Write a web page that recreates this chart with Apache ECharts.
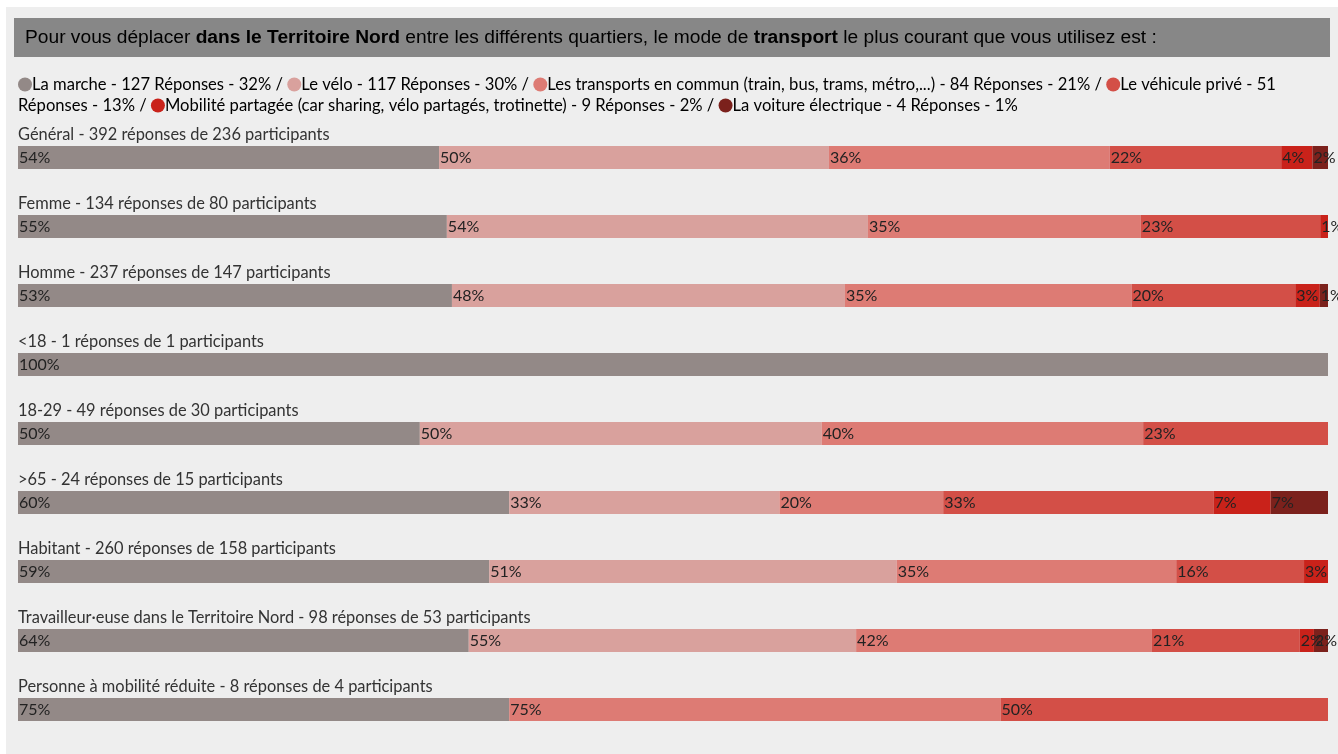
<!DOCTYPE html>
<html>
<head>
<meta charset="utf-8">
<script src="https://cdn.jsdelivr.net/npm/echarts@6/dist/echarts.min.js"></script>
<style>
html,body{margin:0;padding:0;background:#fff;}
#chart{width:1338px;height:754px;}
</style>
</head>
<body>
<div id="chart"></div>
<script>
// ---- data ----
const categories = [
  'Général - 392 réponses de 236 participants',
  'Femme - 134 réponses de 80 participants',
  'Homme - 237 réponses de 147 participants',
  '<18 - 1 réponses de 1 participants',
  '18-29 - 49 réponses de 30 participants',
  '>65 - 24 réponses de 15 participants',
  'Habitant - 260 réponses de 158 participants',
  'Travailleur·euse dans le Territoire Nord - 98 réponses de 53 participants',
  'Personne à mobilité réduite - 8 réponses de 4 participants'
];
const modeNames = [
  'La marche',
  'Le vélo',
  'Les transports en commun (train, bus, trams, métro,...)',
  'Le véhicule privé',
  'Mobilité partagée (car sharing, vélo partagés, trotinette)',
  'La voiture électrique'
];
const modeResponses = [127, 117, 84, 51, 9, 4];
const modeShares = [32, 30, 21, 13, 2, 1];
const marche     = [54, 55, 53, 100, 50, 60, 59, 64, 75];
const velo       = [50, 54, 48, 0, 50, 33, 51, 55, 0];
const transports = [36, 35, 35, 0, 40, 20, 35, 42, 75];
const vehicule   = [22, 23, 20, 0, 23, 33, 16, 21, 50];
const partagee   = [4, 1, 3, 0, 0, 7, 3, 2, 0];
const electrique = [2, 0, 1, 0, 0, 7, 0, 2, 0];

const seriesValues = [marche, velo, transports, vehicule, partagee, electrique];
const colors = ['#938987', '#d9a19d', '#dd7b74', '#d34f47', '#c9221a', '#7b211c'];

const rowTotals = categories.map((_, r) => seriesValues.reduce((s, arr) => s + arr[r], 0));

// ---- legend text ----
const rich = { t: { fontFamily: 'Lato', fontSize: 16.6, color: '#333', lineHeight: 21 } };
const parts = modeNames.map((n, i) => {
  rich['c' + i] = { width: 14, height: 14, borderRadius: 7, backgroundColor: colors[i] };
  let txt = n + ' - ' + modeResponses[i] + ' Réponses - ' + modeShares[i] + '%';
  if (i === 3) txt = txt.replace(modeResponses[i] + ' Réponses', modeResponses[i] + '\nRéponses');
  return '{c' + i + '|}{t|' + txt + '}';
});
const legendText = parts.join('{t| / }');

const chart = echarts.init(document.getElementById('chart'), null, { renderer: 'canvas' });

const option = {
  backgroundColor: '#ffffff',
  animation: false,
  graphic: [
    { type: 'rect', z: -10, shape: { x: 6, y: 7, width: 1340, height: 760 }, style: { fill: '#eeeeee' } },
    { type: 'rect', z: -5, shape: { x: 14, y: 18, width: 1316, height: 39 }, style: { fill: '#878787' } },
    {
      type: 'text', x: 25, y: 38,
      style: {
        text: '{n|Pour vous déplacer }{b|dans le Territoire Nord}{n| entre les différents quartiers, le mode de }{b|transport}{n| le plus courant que vous utilisez est :}',
        verticalAlign: 'middle',
        rich: {
          n: { fontFamily: 'Liberation Sans', fontSize: 19.2, color: '#fff', fontWeight: 'normal' },
          b: { fontFamily: 'Liberation Sans', fontSize: 19.2, color: '#fff', fontWeight: 'bold' }
        }
      }
    },
    {
      type: 'text', x: 18, y: 74,
      style: { text: legendText, rich: rich, fontFamily: 'Lato', fontSize: 16.6, lineHeight: 21 }
    }
  ],
  grid: { left: 18, right: 10, top: 123, height: 621, containLabel: false },
  xAxis: { type: 'value', min: 0, max: 100, show: false },
  yAxis: {
    type: 'category', data: categories, inverse: true,
    axisLine: { show: false }, axisTick: { show: false }, splitLine: { show: false },
    axisLabel: {
      inside: true, margin: 0, align: 'left', verticalAlign: 'bottom',
      padding: [0, 0, 15, 0],
      fontFamily: 'Lato', fontSize: 16.4, color: '#333'
    },
    z: 10
  },
  series: seriesValues.map((arr, i) => ({
    type: 'bar', name: modeNames[i], stack: 'all', barWidth: 23,
    itemStyle: { color: colors[i] },
    data: arr.map((v, r) => ({ value: v / rowTotals[r] * 100, raw: v })),
    label: {
      show: true, position: 'insideLeft', distance: 1,
      fontFamily: 'Lato', fontSize: 16, color: '#222',
      formatter: p => p.data.raw > 0 ? p.data.raw + '%' : ''
    }
  }))
};
chart.setOption(option);
</script>
</body>
</html>
